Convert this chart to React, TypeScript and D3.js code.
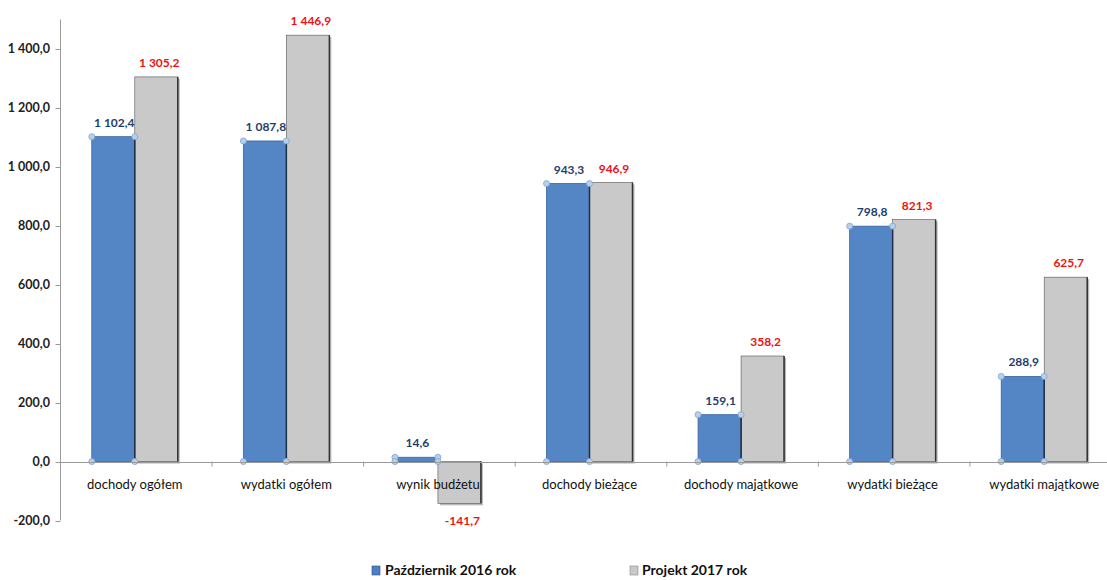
import React from "react";
import * as d3 from "d3";

const categories = [
  "dochody ogółem",
  "wydatki ogółem",
  "wynik budżetu",
  "dochody bieżące",
  "dochody majątkowe",
  "wydatki bieżące",
  "wydatki majątkowe",
];
const series2016 = [1102.4, 1087.8, 14.6, 943.3, 159.1, 798.8, 288.9];
const series2017 = [1305.2, 1446.9, -141.7, 946.9, 358.2, 821.3, 625.7];
const yTicks = [-200, 0, 200, 400, 600, 800, 1000, 1200, 1400];
const legendLabels = ["Październik 2016 rok", "Projekt 2017 rok"];

const W = 1107;
const H = 580;
const FONT = "Lato, 'Open Sans', 'Liberation Sans', sans-serif";

function fmt(v: number): string {
  const neg = v < 0;
  const a = Math.abs(v);
  const [ip, dp] = a.toFixed(1).split(".");
  const withSp = ip.replace(/\B(?=(\d{3})+(?!\d))/g, " ");
  return (neg ? "-" : "") + withSp + "," + dp;
}

export default function App() {
  const y = d3.scaleLinear().domain([-200, 1500]).range([520.5, 19.5]);
  const x = d3.scaleBand<string>().domain(categories).range([60, 1121]).padding(0);
  const bw = 43;
  const y0 = y(0);
  const axisX = 60.5;

  return (
    <svg width={W} height={H} style={{ display: "block", position: "absolute", left: 0, top: 0, background: "#fff" }}>
      <rect x={0} y={0} width={W} height={H} fill="#fff" />
      {/* y axis */}
      <line x1={axisX} x2={axisX} y1={y(1500)} y2={y(-200)} stroke="#9a9a9a" strokeWidth={1} />
      {yTicks.map((t) => (
        <g key={t}>
          <line x1={axisX - 5} x2={axisX} y1={Math.round(y(t)) + 0.5} y2={Math.round(y(t)) + 0.5} stroke="#9a9a9a" />
          <text x={50} y={y(t) + 4.5} textAnchor="end" fontFamily={FONT} fontWeight={700} fontSize={12.5} fill="#222">
            {fmt(t)}
          </text>
        </g>
      ))}
      {/* bars */}
      {categories.map((c, i) => {
        const cx = (x(c) as number) + x.bandwidth() / 2 - 1;
        const v1 = series2016[i];
        const v2 = series2017[i];
        const b1top = y(Math.max(0, v1));
        const b1h = Math.abs(y(v1) - y0);
        const b2top = y(Math.max(0, v2));
        const b2h = Math.abs(y(v2) - y0);
        const x1 = cx - bw;
        const x2 = cx;
        return (
          <g key={c}>
            <rect x={x2 + 2} y={b2top + 2} width={bw} height={b2h} fill="#8a8a8a" opacity={0.6} />
            <rect x={x2} y={b2top} width={bw} height={b2h} fill="#c9c9c9" stroke="#555" strokeWidth={0.6} />
            <line x1={x2 + bw} x2={x2 + bw} y1={b2top} y2={b2top + b2h} stroke="#333" strokeWidth={1.5} />
            <rect x={x1} y={b1top} width={bw} height={b1h} fill="#5486c6" stroke="#3a64a0" strokeWidth={0.8} />
            <line x1={x1 + bw} x2={x1 + bw} y1={b1top} y2={b1top + b1h} stroke="#1f2f4a" strokeWidth={1.5} />
            {[x1, x1 + bw].map((px, k) => (
              <g key={k}>
                <circle cx={px} cy={b1top} r={3} fill="#b9d0ea" stroke="#7fa3cc" strokeWidth={0.8} />
                <circle cx={px} cy={b1top + b1h} r={3} fill="#b9d0ea" stroke="#7fa3cc" strokeWidth={0.8} />
              </g>
            ))}
            <text x={x1 + bw / 2 + 1} y={y(v1) - 10} textAnchor="middle" fontFamily={FONT} fontWeight={700} fontSize={12} fill="#1f3d6e">
              {fmt(v1)}
            </text>
            <text
              x={x2 + bw / 2 + 3}
              y={v2 >= 0 ? y(v2) - 10 : y(v2) + 22}
              textAnchor="middle"
              fontFamily={FONT}
              fontWeight={700}
              fontSize={12}
              fill="#ee1111"
            >
              {fmt(v2)}
            </text>
          </g>
        );
      })}
      {/* x axis */}
      <line x1={axisX} x2={1121} y1={Math.round(y0) + 0.5} y2={Math.round(y0) + 0.5} stroke="#9a9a9a" />
      {categories.map((c, i) => (
        <line key={"t" + i} x1={(x(c) as number) + 0.5} x2={(x(c) as number) + 0.5} y1={y0} y2={y0 + 5} stroke="#9a9a9a" />
      ))}
      {categories.map((c) => (
        <text
          key={"l" + c}
          x={(x(c) as number) + x.bandwidth() / 2 - 1}
          y={489}
          textAnchor="middle"
          fontFamily={FONT}
          fontSize={13}
          fill="#111"
        >
          {c}
        </text>
      ))}
      {/* legend */}
      <rect x={372} y={566} width={8} height={9} fill="#4f7fc0" stroke="#2c4f80" strokeWidth={0.6} />
      <text x={385} y={575} fontFamily={FONT} fontWeight={700} fontSize={14} fill="#111">
        {legendLabels[0]}
      </text>
      <rect x={630} y={566} width={8} height={9} fill="#c9c9c9" stroke="#888" strokeWidth={0.6} />
      <text x={642} y={575} fontFamily={FONT} fontWeight={700} fontSize={14} fill="#111">
        {legendLabels[1]}
      </text>
    </svg>
  );
}
